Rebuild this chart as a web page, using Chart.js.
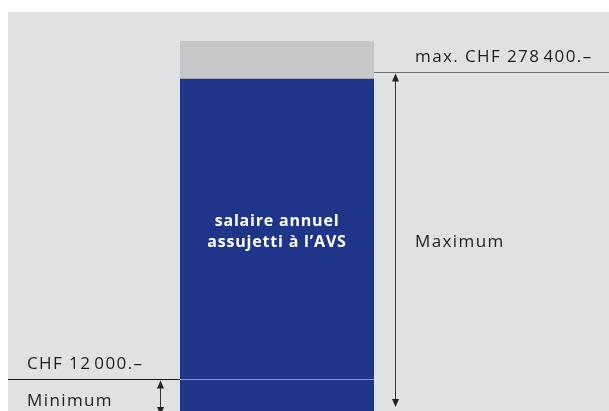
<!DOCTYPE html>
<html>
<head>
<meta charset="utf-8">
<script src="https://cdn.jsdelivr.net/npm/chart.js@4/dist/chart.umd.min.js"></script>
<style>
  html, body { margin: 0; padding: 0; background: #fff; }
  #wrap { width: 609px; height: 411px; }
</style>
</head>
<body>
<div id="wrap"><canvas id="avsChart"></canvas></div>
<script>
// schematic heights (not to scale), from bottom to top
let segmentNames = ['Minimum', 'salaire annuel assujetti à l’AVS', 'au-delà du plafond'];
let segmentHeights = [32, 300, 38];
let segmentColors = ['#1f3589', '#1f3589', '#c6c7c9'];
// where the two thresholds sit on the same schematic axis
let thresholdLevels = [32, 339];
let thresholdLabels = ['CHF 12\u200A000.–', 'max. CHF 278\u200A400.–'];
let spanLabels = ['Minimum', 'Maximum'];
let barText = ['salaire annuel', 'assujetti à l’AVS'];

const FONT = '"Open Sans", "DejaVu Sans", sans-serif';

function arrow(ctx, x, y1, y2) {
    ctx.beginPath();
    ctx.moveTo(x, y1 + 4);
    ctx.lineTo(x, y2 - 4);
    ctx.stroke();
    ctx.beginPath();
    ctx.moveTo(x, y1); ctx.lineTo(x - 3.5, y1 + 8); ctx.lineTo(x + 3.5, y1 + 8); ctx.closePath();
    ctx.moveTo(x, y2); ctx.lineTo(x - 3.5, y2 - 8); ctx.lineTo(x + 3.5, y2 - 8); ctx.closePath();
    ctx.fill();
}

const schemePlugin = {
    id: 'scheme',
    beforeDraw(chart) {
        let ctx = chart.ctx;
        ctx.save();
        ctx.fillStyle = '#ffffff';
        ctx.fillRect(0, 0, chart.width, chart.height);
        ctx.fillStyle = '#e0e1e3';
        ctx.fillRect(8, 12, chart.width - 8, chart.height - 12);
        ctx.restore();
    },
    afterDraw(chart) {
        let ctx = chart.ctx;
        let area = chart.chartArea;
        let y = chart.scales.y;
        let yMin = Math.round(y.getPixelForValue(thresholdLevels[0])) + 0.5;
        let yMax = Math.round(y.getPixelForValue(thresholdLevels[1])) + 0.5;
        ctx.save();

        // lines at the thresholds
        ctx.lineWidth = 1;
        ctx.strokeStyle = '#8e9ccf';
        ctx.beginPath(); ctx.moveTo(area.left, yMin); ctx.lineTo(area.right, yMin); ctx.stroke();
        ctx.strokeStyle = '#1a1a1a';
        ctx.beginPath(); ctx.moveTo(8, yMin); ctx.lineTo(area.left, yMin); ctx.stroke();
        ctx.strokeStyle = '#6f7072';
        ctx.beginPath(); ctx.moveTo(area.right, yMax); ctx.lineTo(chart.width, yMax); ctx.stroke();

        // dimension arrows
        ctx.strokeStyle = '#333';
        ctx.fillStyle = '#222';
        arrow(ctx, area.right + 21.5, yMax + 1, area.bottom - 4);
        arrow(ctx, area.left - 19.5, yMin + 1, area.bottom + 4);

        // labels
        ctx.fillStyle = '#1e1e1e';
        ctx.font = '17px ' + FONT;
        ctx.letterSpacing = '1.4px';
        ctx.textBaseline = 'alphabetic';
        ctx.textAlign = 'left';
        ctx.fillText(thresholdLabels[1], area.right + 41, yMax - 11);
        ctx.fillText(spanLabels[1], area.right + 41, 247);
        ctx.fillText(thresholdLabels[0], 27, yMin - 11);
        ctx.fillText(spanLabels[0], 27, yMin + 26);

        ctx.fillStyle = '#ffffff';
        ctx.font = 'bold 16px ' + FONT;
        ctx.letterSpacing = '0.8px';
        ctx.textAlign = 'center';
        let cx = (area.left + area.right) / 2;
        ctx.fillText(barText[0], cx, 226);
        ctx.fillText(barText[1], cx, 247);
        ctx.restore();
    }
};

let total = segmentHeights.reduce((a, b) => a + b, 0);

new Chart(document.getElementById('avsChart'), {
    type: 'bar',
    data: {
        labels: ['AVS'],
        datasets: segmentNames.map((name, i) => ({
            label: name,
            data: [segmentHeights[i]],
            backgroundColor: segmentColors[i],
            borderWidth: 0,
            barPercentage: 1,
            categoryPercentage: 1
        }))
    },
    options: {
        responsive: true,
        maintainAspectRatio: false,
        animation: false,
        layout: { padding: { left: 180, right: 235, top: 41, bottom: 0 } },
        plugins: { legend: { display: false }, tooltip: { enabled: false } },
        scales: {
            x: { display: false, stacked: true },
            y: { display: false, stacked: true, min: 0, max: total }
        }
    },
    plugins: [schemePlugin]
});
</script>
</body>
</html>
